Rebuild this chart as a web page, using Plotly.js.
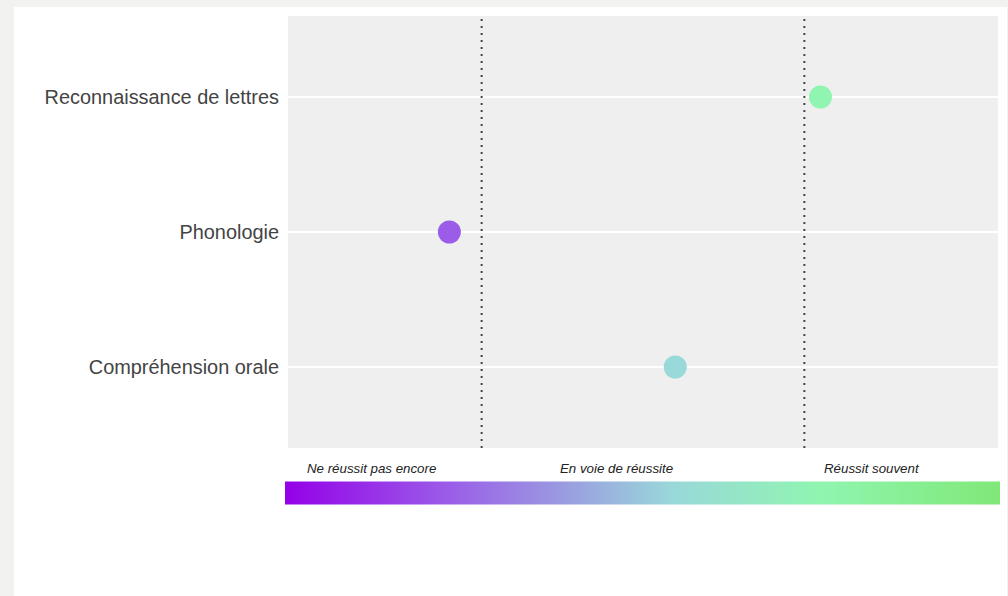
<!DOCTYPE html>
<html>
<head>
<meta charset="utf-8">
<script src="https://cdn.plot.ly/plotly-3.0.1.min.js"></script>
<style>
  html, body { margin: 0; padding: 0; background: #f2f2f0; width: 1008px; height: 596px; overflow: hidden; }
  #chart { position: absolute; left: 14px; top: 7px; width: 993px; height: 589px; background: #ffffff; }
</style>
</head>
<body>
<div id="chart"></div>
<script>
// Data
const skills = ['Reconnaissance de lettres', 'Phonologie', 'Compréhension orale'];
const scores = [8.25, 2.5, 6];
const categoryOrder = ['Compréhension orale', 'Phonologie', 'Reconnaissance de lettres'];
const thresholds = [3, 8];
const scaleMin = 0;
const scaleMax = 11;
const levelLabels = ['Ne réussit pas encore', 'En voie de réussite', 'Réussit souvent'];
const levelLabelPos = [0.117, 0.462, 0.823];

const colorscale = [
  [0.0, '#9400e8'],
  [0.227, '#9b5ce8'],
  [0.545, '#99d9d9'],
  [0.75, '#90f5b0'],
  [1.0, '#80e878']
];

const trace = {
  type: 'scatter',
  mode: 'markers',
  x: scores,
  y: skills,
  hoverinfo: 'x+y',
  marker: {
    size: 23,
    color: scores,
    colorscale: colorscale,
    cmin: scaleMin,
    cmax: scaleMax,
    line: { width: 0 },
    showscale: true,
    colorbar: {
      orientation: 'h',
      thickness: 23,
      thicknessmode: 'pixels',
      len: 715,
      lenmode: 'pixels',
      x: 0.4993,
      xanchor: 'center',
      y: -0.1053,
      yanchor: 'middle',
      xpad: 0,
      ypad: 0,
      outlinewidth: 0,
      showticklabels: false,
      ticks: ''
    }
  }
};

const shapes = thresholds.map(t => ({
  type: 'line', xref: 'x', yref: 'paper',
  x0: t, x1: t, y0: 0, y1: 1,
  line: { color: '#444444', width: 2, dash: '2px,5px' }
}));

const annotations = levelLabels.map((txt, i) => ({
  text: '<i>' + txt + '</i>',
  xref: 'paper', yref: 'paper',
  x: levelLabelPos[i], y: -0.0463,
  xanchor: 'center', yanchor: 'middle',
  showarrow: false,
  font: { family: 'Liberation Sans, Arial, sans-serif', size: 13.3, color: '#222222' }
}));

const layout = {
  width: 993,
  height: 589,
  margin: { l: 274, r: 9, t: 9, b: 148, autoexpand: false },
  paper_bgcolor: '#ffffff',
  plot_bgcolor: '#efefef',
  showlegend: false,
  font: { family: 'Liberation Sans, Arial, sans-serif', color: '#444444' },
  xaxis: {
    range: [scaleMin, scaleMax],
    showgrid: false, zeroline: false, showticklabels: false, ticks: '', showline: false,
    automargin: false,
    fixedrange: true
  },
  yaxis: {
    type: 'category',
    categoryorder: 'array',
    categoryarray: categoryOrder,
    range: [-0.6, 2.6],
    showgrid: true, gridcolor: '#ffffff', gridwidth: 2,
    zeroline: false, showline: false, ticks: '',
    automargin: false,
    ticklabelstandoff: 8,
    tickfont: { size: 19.9, color: '#444444', family: 'Liberation Sans, Arial, sans-serif' },
    fixedrange: true
  },
  shapes: shapes,
  annotations: annotations
};

Plotly.newPlot('chart', [trace], layout, { displayModeBar: false, staticPlot: true });
</script>
</body>
</html>
